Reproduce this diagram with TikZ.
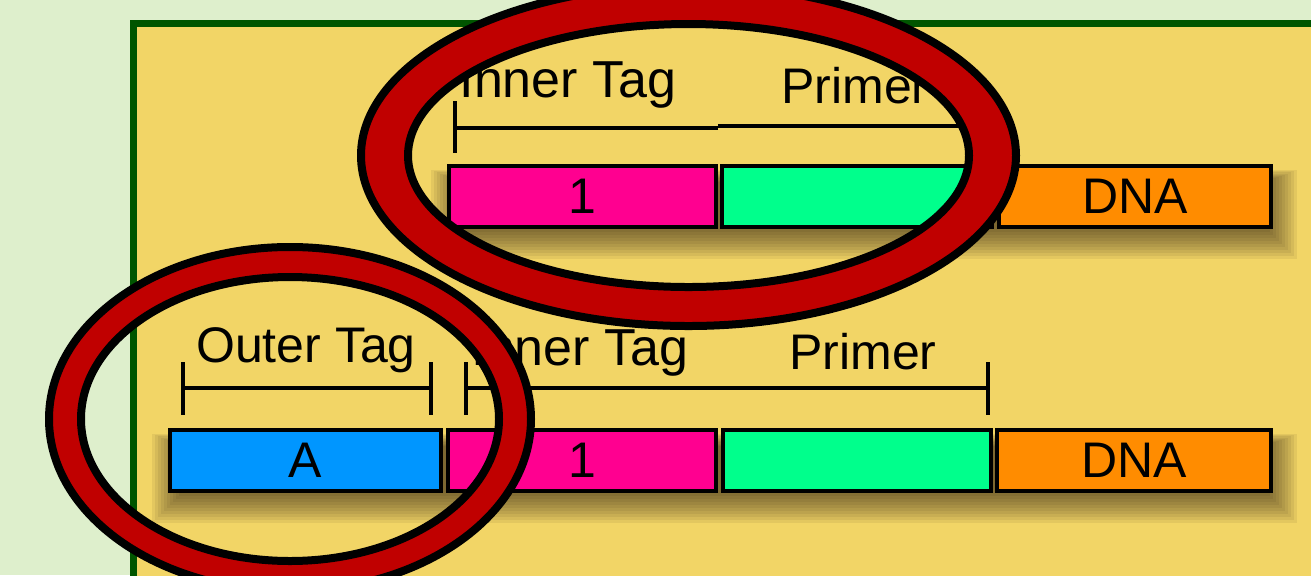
\documentclass[tikz,border=0pt]{standalone}
\usepackage{fontspec}
\setmainfont{Liberation Sans}
\definecolor{bggreen}{HTML}{DEEFCC}
\definecolor{panelyellow}{HTML}{F2D566}
\definecolor{panelborder}{HTML}{005500}
\definecolor{ringred}{HTML}{C00000}
\definecolor{segpink}{HTML}{FF0090}
\definecolor{seggreen}{HTML}{00FF8C}
\definecolor{segorange}{HTML}{FF8C00}
\definecolor{segblue}{HTML}{0096FF}
\newcommand\segbox[7]{\node[segbox, fill=#6, minimum width={(#3-#2-4)*0.5pt}, minimum height={(#5-#4-4)*0.5pt}] (#1) at ({#2+2},{#4+2}) {#7};}
\newcommand\rowshadow[4]{%
  \foreach \i in {0,...,10}{%
    \pgfmathsetmacro\e{\i*3-10}%
    \fill[black!80!brown, opacity=0.07] ({#1+4-\e},{#2+14-0.4*\e}) rectangle ({#3+4+\e},{#4+10+\e});
  }}
\begin{document}
\begin{tikzpicture}[x=0.5pt,y=-0.5pt,
  segbox/.style={draw=black, line width=2pt, inner sep=0pt, outer sep=0pt, anchor=north west, font=\fontsize{25}{30}\selectfont},
  lab/.style={font=\fontsize{25}{30}\selectfont, inner sep=0pt, anchor=base},
  biglab/.style={lab, font=\fontsize{26}{30}\selectfont},
  dimline/.style={line width=1.6pt},
  ring/.style={fill=ringred, even odd rule, draw=black, line width=4pt},
]
\useasboundingbox (0,0) rectangle (1311,575);
\fill[bggreen] (0,0) rectangle (1311,575);
\fill[panelyellow] (133,23) rectangle (1320,600);
\draw[panelborder, line width=3.5pt] (133,600) -- (133,23) -- (1320,23);

% shadows
\rowshadow{447}{164}{1273}{229}
\rowshadow{168}{428}{1273}{493}

% top row
\segbox{tpink}{447}{718}{164}{229}{segpink}{1}
\segbox{tgreen}{720}{994}{164}{229}{seggreen}{}
\segbox{torange}{997}{1273}{164}{229}{segorange}{DNA}

% bottom row
\segbox{bblue}{168}{443}{428}{493}{segblue}{A}
\segbox{bpink}{446}{718}{428}{493}{segpink}{1}
\segbox{bgreen}{721}{993}{428}{493}{seggreen}{}
\segbox{borange}{995}{1273}{428}{493}{segorange}{DNA}

% dimension lines, top
\coordinate (ta) at (455,128);
\coordinate (tm) at (718,128);
\coordinate (tm2) at (718,126);
\coordinate (tb) at (988,126);
\draw[dimline] (455,101) -- (455,153);
\draw[dimline] (988,100) -- (988,152);
\draw[dimline] (ta) -- (tm);
\draw[dimline] (tm2) -- (tb);

% dimension lines, bottom
\coordinate (oa) at (183,388);
\coordinate (ob) at (431,388);
\coordinate (ia) at (466,388);
\coordinate (ib) at (988,388);
\draw[dimline] (183,362) -- (183,415);
\draw[dimline] (431,362) -- (431,415);
\draw[dimline] (466,362) -- (466,415);
\draw[dimline] (988,362) -- (988,415);
\draw[dimline] (oa) -- (ob);
\draw[dimline] (ia) -- (ib);

% labels
\node[biglab] (tinner) at (568,97) {Inner Tag};
\node[lab, anchor=base west] (tprimer) at (781,103) {Primer};
\node[lab] (bouter) at (306,362) {Outer Tag};
\node[biglab] (binner) at (580,365) {Inner Tag};
\node[lab, anchor=base west] (bprimer) at (789,369) {Primer};

% highlight rings
\path[ring] (290,419) ellipse [x radius=241, y radius=172]
            (290,419) ellipse [x radius=209, y radius=142];
\path[ring] (688.5,155.5) ellipse [x radius=327.5, y radius=170.5]
            (688.5,155.5) ellipse [x radius=280.5, y radius=131.5];
\end{tikzpicture}
\end{document}
